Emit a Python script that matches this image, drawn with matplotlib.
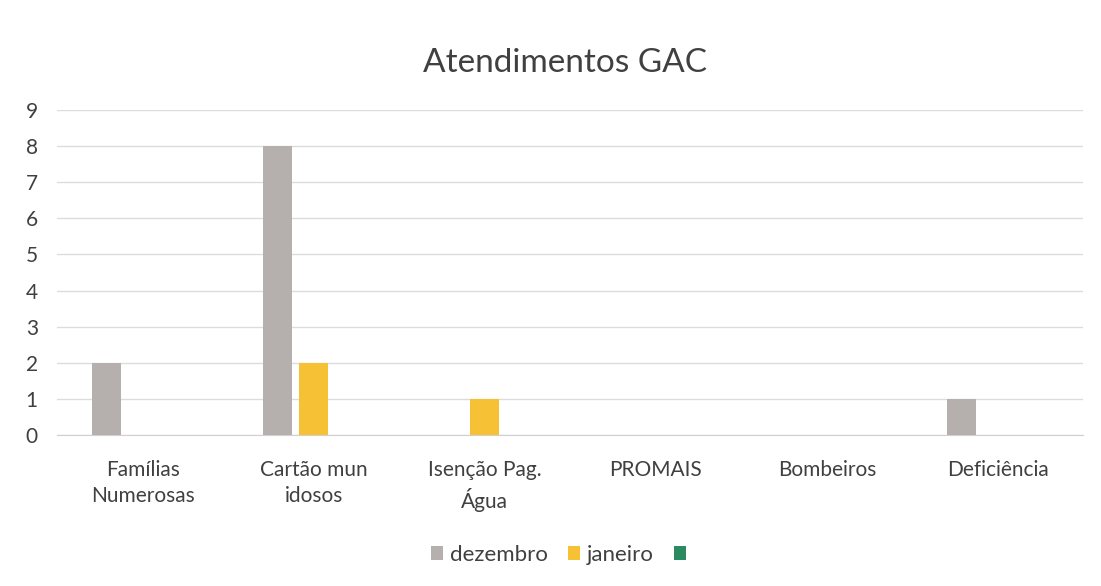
import matplotlib
matplotlib.use("Agg")
import matplotlib.pyplot as plt
import numpy as np

categories = ["Famílias\nNumerosas", "Cartão mun\nidosos", "Isenção Pag.\nÁgua", "PROMAIS", "Bombeiros", "Deficiência"]
dezembro = [2, 8, 0, 0, 0, 1]
janeiro = [0, 2, 1, 0, 0, 0]
serie3 = [0, 0, 0, 0, 0, 0]
series_names = ["dezembro", "janeiro", ""]
colors = ["#b5b0ae", "#f7c136", "#2b8a60"]
yticks = list(range(0, 10))

plt.rcParams['font.family'] = ['Lato', 'DejaVu Sans']
txt = "#404040"

fig = plt.figure(figsize=(11.01, 5.86), dpi=100)
ax = fig.add_axes([0.052, 0.2577, 0.932, 0.5545])

x = np.arange(len(categories))
w = 0.17
off = 0.21
for i, (vals, c, name) in enumerate(zip([dezembro, janeiro, serie3], colors, series_names)):
    ax.bar(x + (i - 1) * off, vals, width=w, color=c, label=name if name else " ", zorder=3)

ax.set_xlim(-0.5, len(categories) - 0.5)
ax.set_ylim(0, 9)
ax.set_yticks(yticks)
ax.set_yticklabels([str(t) for t in yticks], fontsize=15, color=txt)
ax.set_xticks(x)
ax.set_xticklabels(categories, fontsize=15, color=txt, linespacing=1.4)
ax.tick_params(axis='both', length=0)
ax.tick_params(axis='y', pad=14)
ax.tick_params(axis='x', pad=18)
ax.grid(axis='y', color="#dcdcdc", linewidth=1, zorder=0)
for s in ["top", "right", "left"]:
    ax.spines[s].set_visible(False)
ax.spines["bottom"].set_color("#d0d0d0")

fig.text(0.513, 0.893, "Atendimentos GAC", ha='center', va='center', fontsize=24, color=txt)

leg = fig.legend(loc='center', bbox_to_anchor=(0.513, 0.053), ncol=3, frameon=False,
                 fontsize=16, handlelength=0.55, handleheight=0.55, handletextpad=0.3,
                 columnspacing=0.9, labelcolor=txt)

fig.savefig("out.png", dpi=100)
